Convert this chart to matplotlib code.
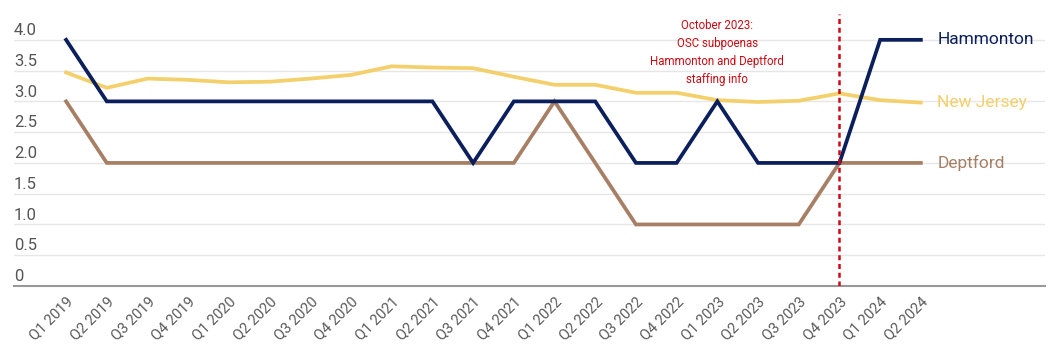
import matplotlib
matplotlib.use("Agg")
import matplotlib.pyplot as plt

plt.rcParams["font.family"] = ["Roboto", "DejaVu Sans"]

quarters = ["Q1 2019", "Q2 2019", "Q3 2019", "Q4 2019", "Q1 2020", "Q2 2020",
            "Q3 2020", "Q4 2020", "Q1 2021", "Q2 2021", "Q3 2021", "Q4 2021",
            "Q1 2022", "Q2 2022", "Q3 2022", "Q4 2022", "Q1 2023", "Q2 2023",
            "Q3 2023", "Q4 2023", "Q1 2024", "Q2 2024"]
hammonton = [4, 3, 3, 3, 3, 3, 3, 3, 3, 3, 2, 3, 3, 3, 2, 2, 3, 2, 2, 2, 4, 4]
deptford = [3, 2, 2, 2, 2, 2, 2, 2, 2, 2, 2, 2, 3, 2, 1, 1, 1, 1, 1, 2, 2, 2]
new_jersey = [3.47, 3.22, 3.37, 3.35, 3.31, 3.32, 3.37, 3.43, 3.57, 3.55, 3.54,
              3.40, 3.27, 3.27, 3.14, 3.14, 3.02, 2.99, 3.01, 3.13, 3.02, 2.98]
yticks = [0, 0.5, 1.0, 1.5, 2.0, 2.5, 3.0, 3.5, 4.0]
ytick_labels = ["0", "0.5", "1.0", "1.5", "2.0", "2.5", "3.0", "3.5", "4.0"]
event_q = "Q4 2023"
event_text = "October 2023:\nOSC subpoenas\nHammonton and Deptford\nstaffing info"

NAVY, GOLD, BROWN, RED = "#0b1f5c", "#f3d06b", "#a67f65", "#cc0a14"
GRID, TXT = "#e6e6e6", "#555555"

fig = plt.figure(figsize=(10.48, 3.6), dpi=100)
ax = fig.add_axes([14 / 1048, (360 - 286) / 360, (1045 - 14) / 1048, (286 - 14) / 360])
x = list(range(len(quarters)))

ax.plot(x, new_jersey, color=GOLD, lw=2.7, solid_joinstyle="miter", zorder=3)
ax.plot(x, deptford, color=BROWN, lw=2.7, solid_joinstyle="miter", zorder=4)
ax.plot(x, hammonton, color=NAVY, lw=2.7, solid_joinstyle="miter", zorder=5)

ev = quarters.index(event_q)
ax.axvline(ev, color=RED, lw=1.8, ls=(0, (2, 1.5)), zorder=6)
ax.text(ev - 3.0, 4.42 - 0.08, event_text, color=RED, fontsize=8.3, ha="center",
        va="top", linespacing=1.5)

for name, vals, col in [("Hammonton", hammonton, NAVY),
                        ("New Jersey", new_jersey, GOLD),
                        ("Deptford", deptford, BROWN)]:
    ax.text(len(quarters) - 1 + 0.4, vals[-1], name, color=col, fontsize=12.5,
            ha="left", va="center")

ax.set_xlim(-1.28, 24.05)
ax.set_ylim(0, 4.42)
for y, lab in zip(yticks, ytick_labels):
    if y > 0:
        ax.axhline(y, color=GRID, lw=1, zorder=1)
    ax.text(-1.28, y + 0.03, lab, color=TXT, fontsize=12, ha="left", va="bottom")

ax.set_yticks([])
ax.set_xticks(x)
ax.set_xticklabels(quarters, rotation=45, ha="right", rotation_mode="anchor",
                   fontsize=10.5, color="#5a5a5a")
ax.tick_params(axis="x", length=0, pad=6)
for s in ["top", "right", "left"]:
    ax.spines[s].set_visible(False)
ax.spines["bottom"].set_color("#999999")
ax.spines["bottom"].set_linewidth(1.5)

fig.savefig("out.png", dpi=100)
